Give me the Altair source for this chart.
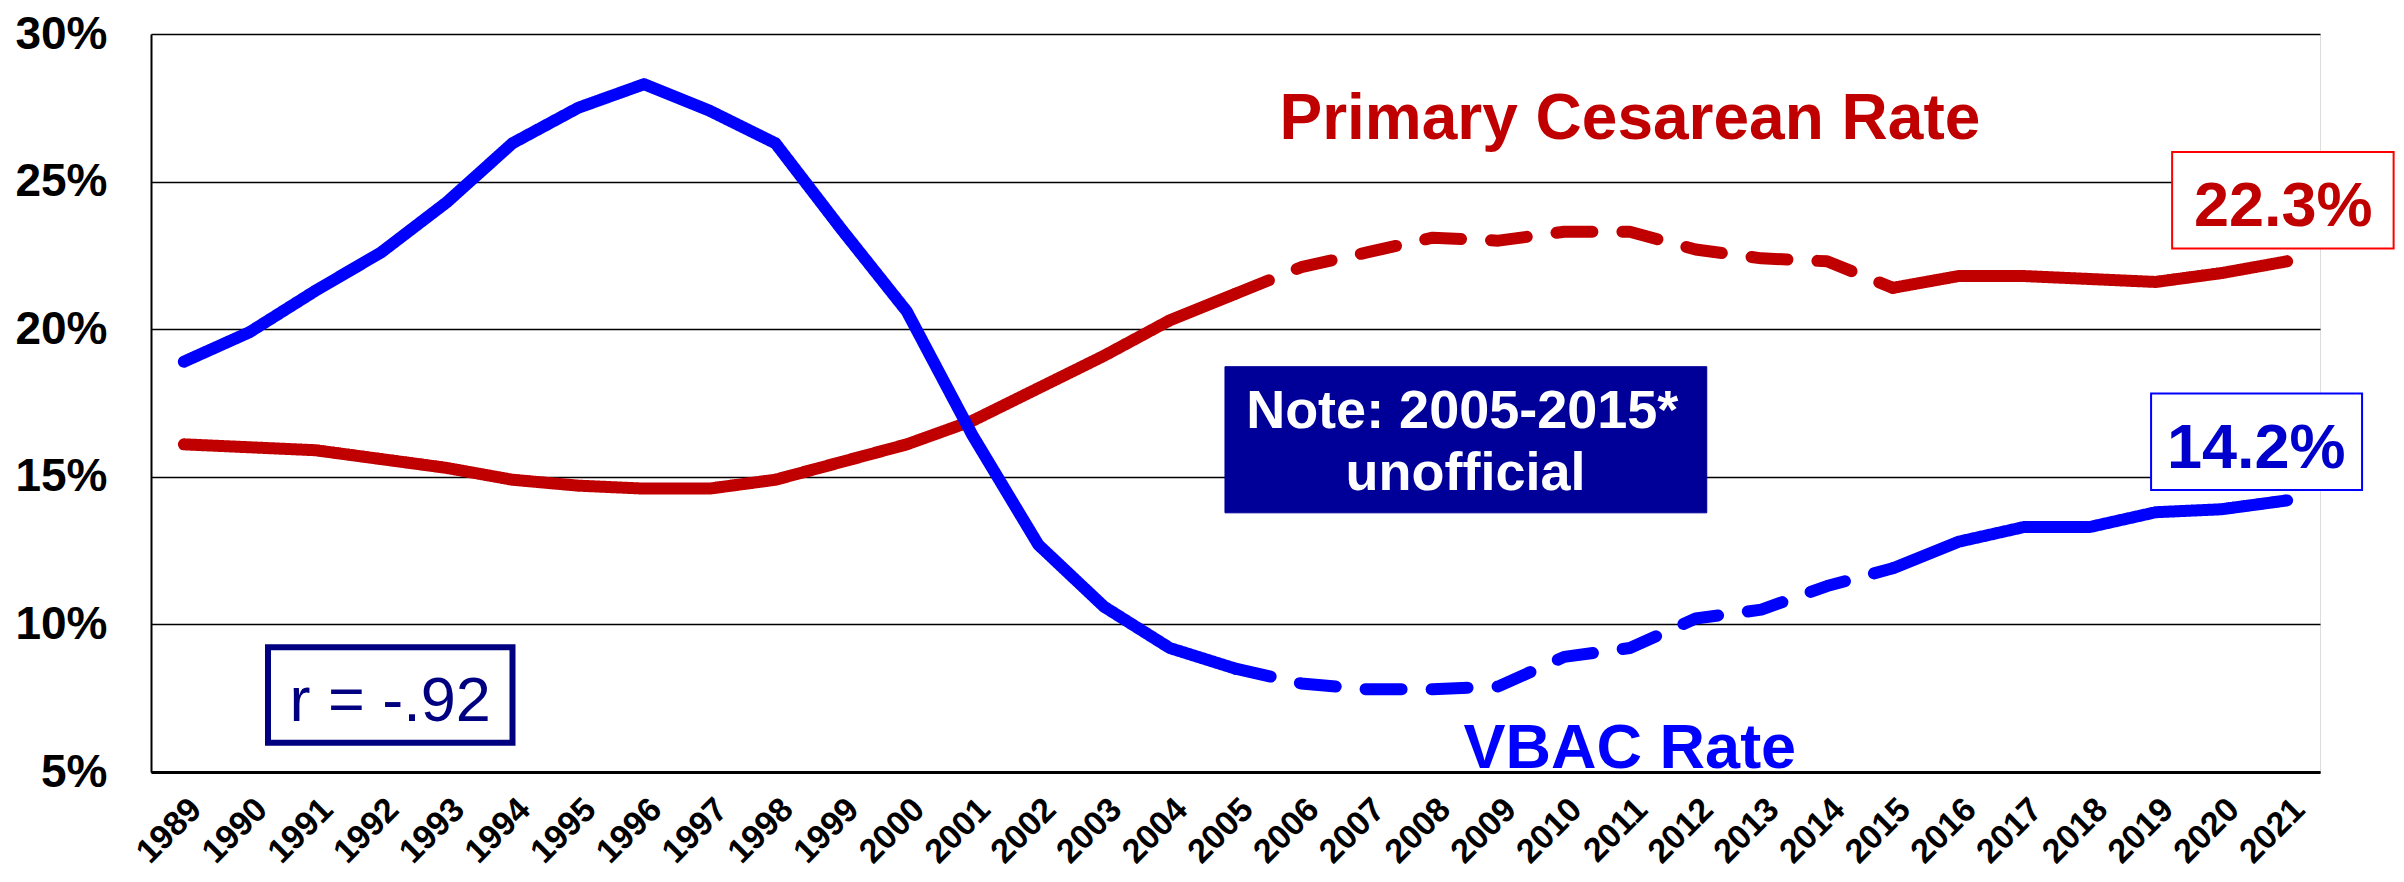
import altair as alt
import pandas as pd

years = list(range(1989, 2022))
cesarean = [16.1, 16.0, 15.9, 15.6, 15.3, 14.9, 14.7, 14.6, 14.6, 14.9, 15.5,
            16.1, 16.9, 18.0, 19.1, 20.3, 21.2, 22.1, 22.6, 23.1, 23.0, 23.3,
            23.3, 22.7, 22.4, 22.3, 21.4, 21.8, 21.8, 21.7, 21.6, 21.9, 22.3]
vbac = [18.9, 19.9, 21.3, 22.6, 24.3, 26.3, 27.5, 28.3, 27.4, 26.3, 23.4,
        20.6, 16.4, 12.7, 10.6, 9.2, 8.5, 8.0, 7.8, 7.8, 7.9, 8.9,
        9.2, 10.2, 10.5, 11.3, 11.9, 12.8, 13.3, 13.3, 13.8, 13.9, 14.2]
series_names = ["Primary Cesarean Rate", "VBAC Rate"]
series_colors = ["#C00000", "#0000FF"]
# (segment id, first year, last year, style)
segments = [("a", 1989, 2005, "solid"), ("b", 2005, 2015, "dashed"), ("c", 2015, 2021, "solid")]
y_ticks = [5, 10, 15, 20, 25, 30]

# annotation boxes (data units): x1, x2, y1, y2
box_names = ["c_end", "v_end", "note", "r"]
box_x1 = [2019.25, 2018.93, 2004.84, 1990.28]
box_x2 = [2022.62, 2022.14, 2012.17, 1994.0]
box_y1 = [26.0, 17.82, 18.73, 9.23]
box_y2 = [22.73, 14.55, 13.78, 5.99]
box_fill = ["white", "white", "#000099", "white"]
box_stroke = ["#FF0000", "#0000FF", "#000099", "#000080"]
box_sw = [2, 2, 1, 6]

# texts (data units: x center, y baseline)
txt = ["Primary Cesarean Rate", "VBAC Rate", "22.3%", "14.2%",
       "Note: 2005-2015*", "unofficial", "r = -.92"]
txt_x = [2011.0, 2011.0, 2020.94, 2020.53, 2008.45, 2008.5, 1992.14]
txt_y = [26.45, 5.15, 23.5, 15.29, 16.67, 14.55, 6.73]
txt_color = ["#C00000", "#0000FF", "#C00000", "#0000CC", "white", "white", "#000080"]
txt_size = [64, 63, 63, 63, 54, 54, 63]
txt_weight = ["bold", "bold", "bold", "bold", "bold", "bold", "normal"]

rows = []
for name, vals in zip(series_names, [cesarean, vbac]):
    for seg, a, b, style in segments:
        for yr, v in zip(years, vals):
            if a <= yr <= b:
                rows.append({"year": yr, "rate": v, "series": name,
                             "seg": name + seg, "style": style})
df = pd.DataFrame(rows)

xscale = alt.Scale(domain=[1988.5, 2021.5], nice=False, zero=False)
yscale = alt.Scale(domain=[5, 30], nice=False, zero=False)

lines = alt.Chart(df).mark_line(strokeWidth=12, strokeCap="round", strokeJoin="round").encode(
    x=alt.X("year:Q", scale=xscale,
            axis=alt.Axis(values=years, format="d", labelAngle=-45, labelFontSize=34,
                          labelFont="Liberation Sans", labelFontWeight="bold",
                          labelColor="black", ticks=False, grid=False,
                          domainColor="black", domainWidth=3, labelPadding=20,
                          labelOverlap=False, title=None)),
    y=alt.Y("rate:Q", scale=yscale,
            axis=alt.Axis(values=y_ticks, labelExpr="datum.value + '%'", grid=True,
                          gridColor="black", gridWidth=1.5, gridOpacity=1,
                          domainColor="black", domainWidth=2, ticks=False,
                          labelPadding=44, labelFontSize=46, labelFont="Liberation Sans",
                          labelFontWeight="bold", labelColor="black", title=None)),
    color=alt.Color("series:N", scale=alt.Scale(domain=series_names, range=series_colors), legend=None),
    strokeDash=alt.StrokeDash("style:N", scale=alt.Scale(domain=["solid", "dashed"],
                                                        range=[[1, 0], [36, 30]]), legend=None),
    detail="seg:N",
)

bdf = pd.DataFrame({"name": box_names, "x1": box_x1, "x2": box_x2, "y1": box_y1,
                    "y2": box_y2, "fill": box_fill, "stroke": box_stroke, "sw": box_sw})
boxes = alt.Chart(bdf).mark_rect().encode(
    x=alt.X("x1:Q", scale=xscale), x2="x2:Q",
    y=alt.Y("y1:Q", scale=yscale), y2="y2:Q",
    fill=alt.Fill("fill:N", scale=None),
    stroke=alt.Stroke("stroke:N", scale=None),
    strokeWidth=alt.StrokeWidth("sw:Q", scale=None),
)

tdf = pd.DataFrame({"t": txt, "x": txt_x, "y": txt_y, "c": txt_color,
                    "s": txt_size, "w": txt_weight})
texts = []
for w in ["bold", "normal"]:
    texts.append(alt.Chart(tdf[tdf.w == w]).mark_text(
        align="center", baseline="alphabetic", font="Liberation Sans", fontWeight=w).encode(
        x=alt.X("x:Q", scale=xscale), y=alt.Y("y:Q", scale=yscale),
        text="t:N",
        color=alt.Color("c:N", scale=None),
        size=alt.Size("s:Q", scale=None),
    ))

chart = alt.layer(lines, boxes, *texts).properties(
    width=2169, height=738,
    autosize=alt.AutoSizeParams(type="none"),
    padding={"left": 143, "top": 26, "right": 76, "bottom": 102},
).configure_view(stroke=None).configure(background="white")

chart.save("out.html", embed_options={"renderer": "svg", "actions": False})
